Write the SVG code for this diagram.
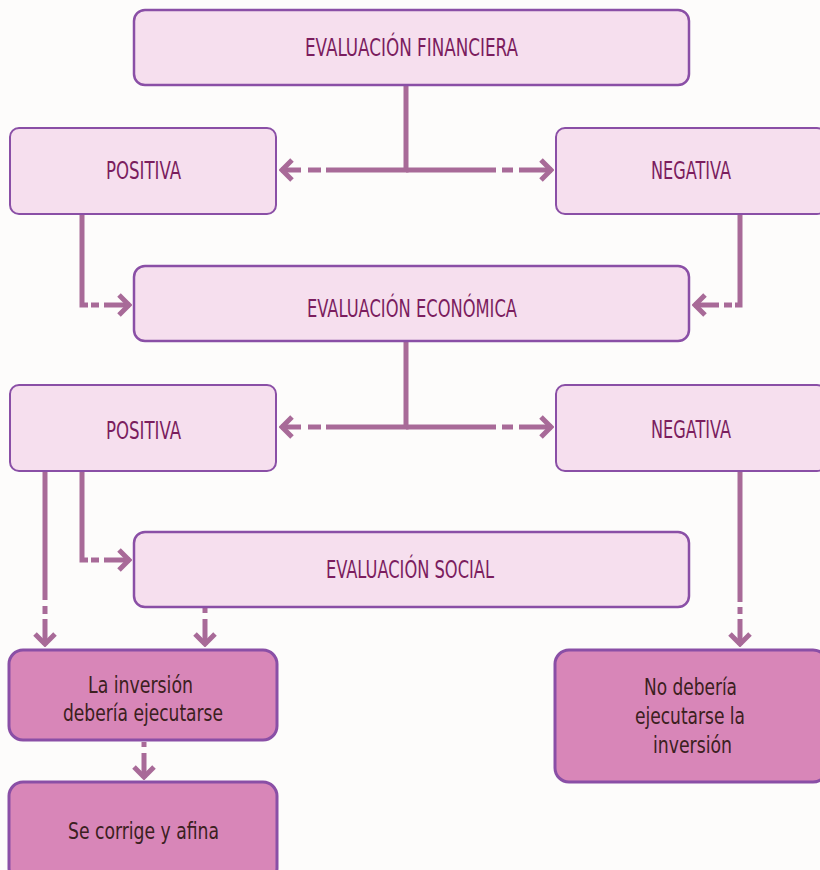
<svg xmlns="http://www.w3.org/2000/svg" width="820" height="870" viewBox="0 0 820 870">
  <style>
    .bg { fill: #fdfcfb; }
    .soft { fill: #f6dfee; stroke: #8a4fa6; stroke-width: 2; }
    .soft-main { fill: #f6dfee; stroke: #8a4fa6; stroke-width: 2.5; }
    .strong { fill: #d886b8; stroke: #8a4fa6; stroke-width: 3; }
    .lbl { font-family: "DejaVu Sans Condensed", "Liberation Sans", sans-serif; font-size: 25px; fill: #7b1d5e; text-anchor: middle; }
    .res { font-family: "DejaVu Sans Condensed", "Liberation Sans", sans-serif; font-size: 23px; fill: #3b2020; text-anchor: middle; }
    .wire { fill: none; stroke: #a86a98; stroke-width: 5; stroke-linejoin: miter; }
  </style>
  <defs>
    <marker id="head" viewBox="-14 -14 16 28" refX="0" refY="0" markerWidth="16" markerHeight="28" markerUnits="userSpaceOnUse" orient="auto">
      <path d="M -11 -10 L -1 0 L -11 10" fill="none" stroke="#a86a98" stroke-width="5"/>
    </marker>
  </defs>

  <rect class="bg" x="0" y="0" width="820" height="870"/>

  <!-- connectors -->
  <g id="connectors">
    <!-- financial evaluation split -->
    <path class="wire" d="M406 86 V170 H326"/>
    <path class="wire" d="M321 170 H308"/>
    <path class="wire" d="M301 170 H281" marker-end="url(#head)"/>
    <path class="wire" d="M406 170 H496"/>
    <path class="wire" d="M502 170 H513"/>
    <path class="wire" d="M519 170 H552" marker-end="url(#head)"/>

    <!-- first results into economic evaluation -->
    <path class="wire" d="M82 214 V305 H88"/>
    <path class="wire" d="M91 305 H99"/>
    <path class="wire" d="M104 305 H130" marker-end="url(#head)"/>
    <path class="wire" d="M740 214 V305 H735"/>
    <path class="wire" d="M732 305 H724"/>
    <path class="wire" d="M719 305 H694" marker-end="url(#head)"/>

    <!-- economic evaluation split -->
    <path class="wire" d="M406 342 V427 H326"/>
    <path class="wire" d="M321 427 H308"/>
    <path class="wire" d="M301 427 H281" marker-end="url(#head)"/>
    <path class="wire" d="M406 427 H496"/>
    <path class="wire" d="M502 427 H513"/>
    <path class="wire" d="M519 427 H552" marker-end="url(#head)"/>

    <!-- positive economic result -->
    <path class="wire" d="M45 472 V600"/>
    <path class="wire" d="M45 606 V614"/>
    <path class="wire" d="M45 619 V645" marker-end="url(#head)"/>
    <path class="wire" d="M82 472 V560 H88"/>
    <path class="wire" d="M91 560 H99"/>
    <path class="wire" d="M104 560 H130" marker-end="url(#head)"/>

    <!-- social evaluation down -->
    <path class="wire" d="M205 608 V613"/>
    <path class="wire" d="M205 619 V645" marker-end="url(#head)"/>

    <!-- negative economic result -->
    <path class="wire" d="M740 472 V602"/>
    <path class="wire" d="M740 607 V614"/>
    <path class="wire" d="M740 619 V645" marker-end="url(#head)"/>

    <!-- investment to correction -->
    <path class="wire" d="M144 742 V747"/>
    <path class="wire" d="M144 753 V778" marker-end="url(#head)"/>
  </g>

  <!-- nodes -->
  <g id="eval-financiera">
    <rect class="soft-main" x="134" y="10" width="555" height="75" rx="11"/>
    <text class="lbl" x="411.5" y="56" textLength="213" lengthAdjust="spacingAndGlyphs">EVALUACIÓN FINANCIERA</text>
  </g>
  <g id="positiva-1">
    <rect class="soft" x="10" y="128" width="266" height="86" rx="9"/>
    <text class="lbl" x="143.5" y="179" textLength="75" lengthAdjust="spacingAndGlyphs">POSITIVA</text>
  </g>
  <g id="negativa-1">
    <rect class="soft" x="556" y="128" width="270" height="86" rx="9"/>
    <text class="lbl" x="691" y="179" textLength="80" lengthAdjust="spacingAndGlyphs">NEGATIVA</text>
  </g>
  <g id="eval-economica">
    <rect class="soft-main" x="134" y="266" width="555" height="75" rx="11"/>
    <text class="lbl" x="412" y="317" textLength="210" lengthAdjust="spacingAndGlyphs">EVALUACIÓN ECONÓMICA</text>
  </g>
  <g id="positiva-2">
    <rect class="soft" x="10" y="385" width="266" height="86" rx="9"/>
    <text class="lbl" x="143.5" y="439" textLength="75" lengthAdjust="spacingAndGlyphs">POSITIVA</text>
  </g>
  <g id="negativa-2">
    <rect class="soft" x="556" y="385" width="270" height="86" rx="9"/>
    <text class="lbl" x="691" y="438" textLength="80" lengthAdjust="spacingAndGlyphs">NEGATIVA</text>
  </g>
  <g id="eval-social">
    <rect class="soft-main" x="134" y="532" width="555" height="75" rx="11"/>
    <text class="lbl" x="410" y="578" textLength="168" lengthAdjust="spacingAndGlyphs">EVALUACIÓN SOCIAL</text>
  </g>
  <g id="ejecutar">
    <rect class="strong" x="9" y="650" width="268" height="90" rx="14"/>
    <text class="res" x="140.5" y="693" textLength="105" lengthAdjust="spacingAndGlyphs">La inversión</text>
    <text class="res" x="143" y="721" textLength="160" lengthAdjust="spacingAndGlyphs">debería ejecutarse</text>
  </g>
  <g id="no-ejecutar">
    <rect class="strong" x="555" y="650" width="272" height="132" rx="14"/>
    <text class="res" x="690.5" y="695" textLength="93" lengthAdjust="spacingAndGlyphs">No debería</text>
    <text class="res" x="690" y="724" textLength="110" lengthAdjust="spacingAndGlyphs">ejecutarse la</text>
    <text class="res" x="692.5" y="753" textLength="79" lengthAdjust="spacingAndGlyphs">inversión</text>
  </g>
  <g id="corregir">
    <rect class="strong" x="9" y="782" width="268" height="100" rx="14"/>
    <text class="res" x="143.5" y="839" textLength="151" lengthAdjust="spacingAndGlyphs">Se corrige y afina</text>
  </g>
</svg>
